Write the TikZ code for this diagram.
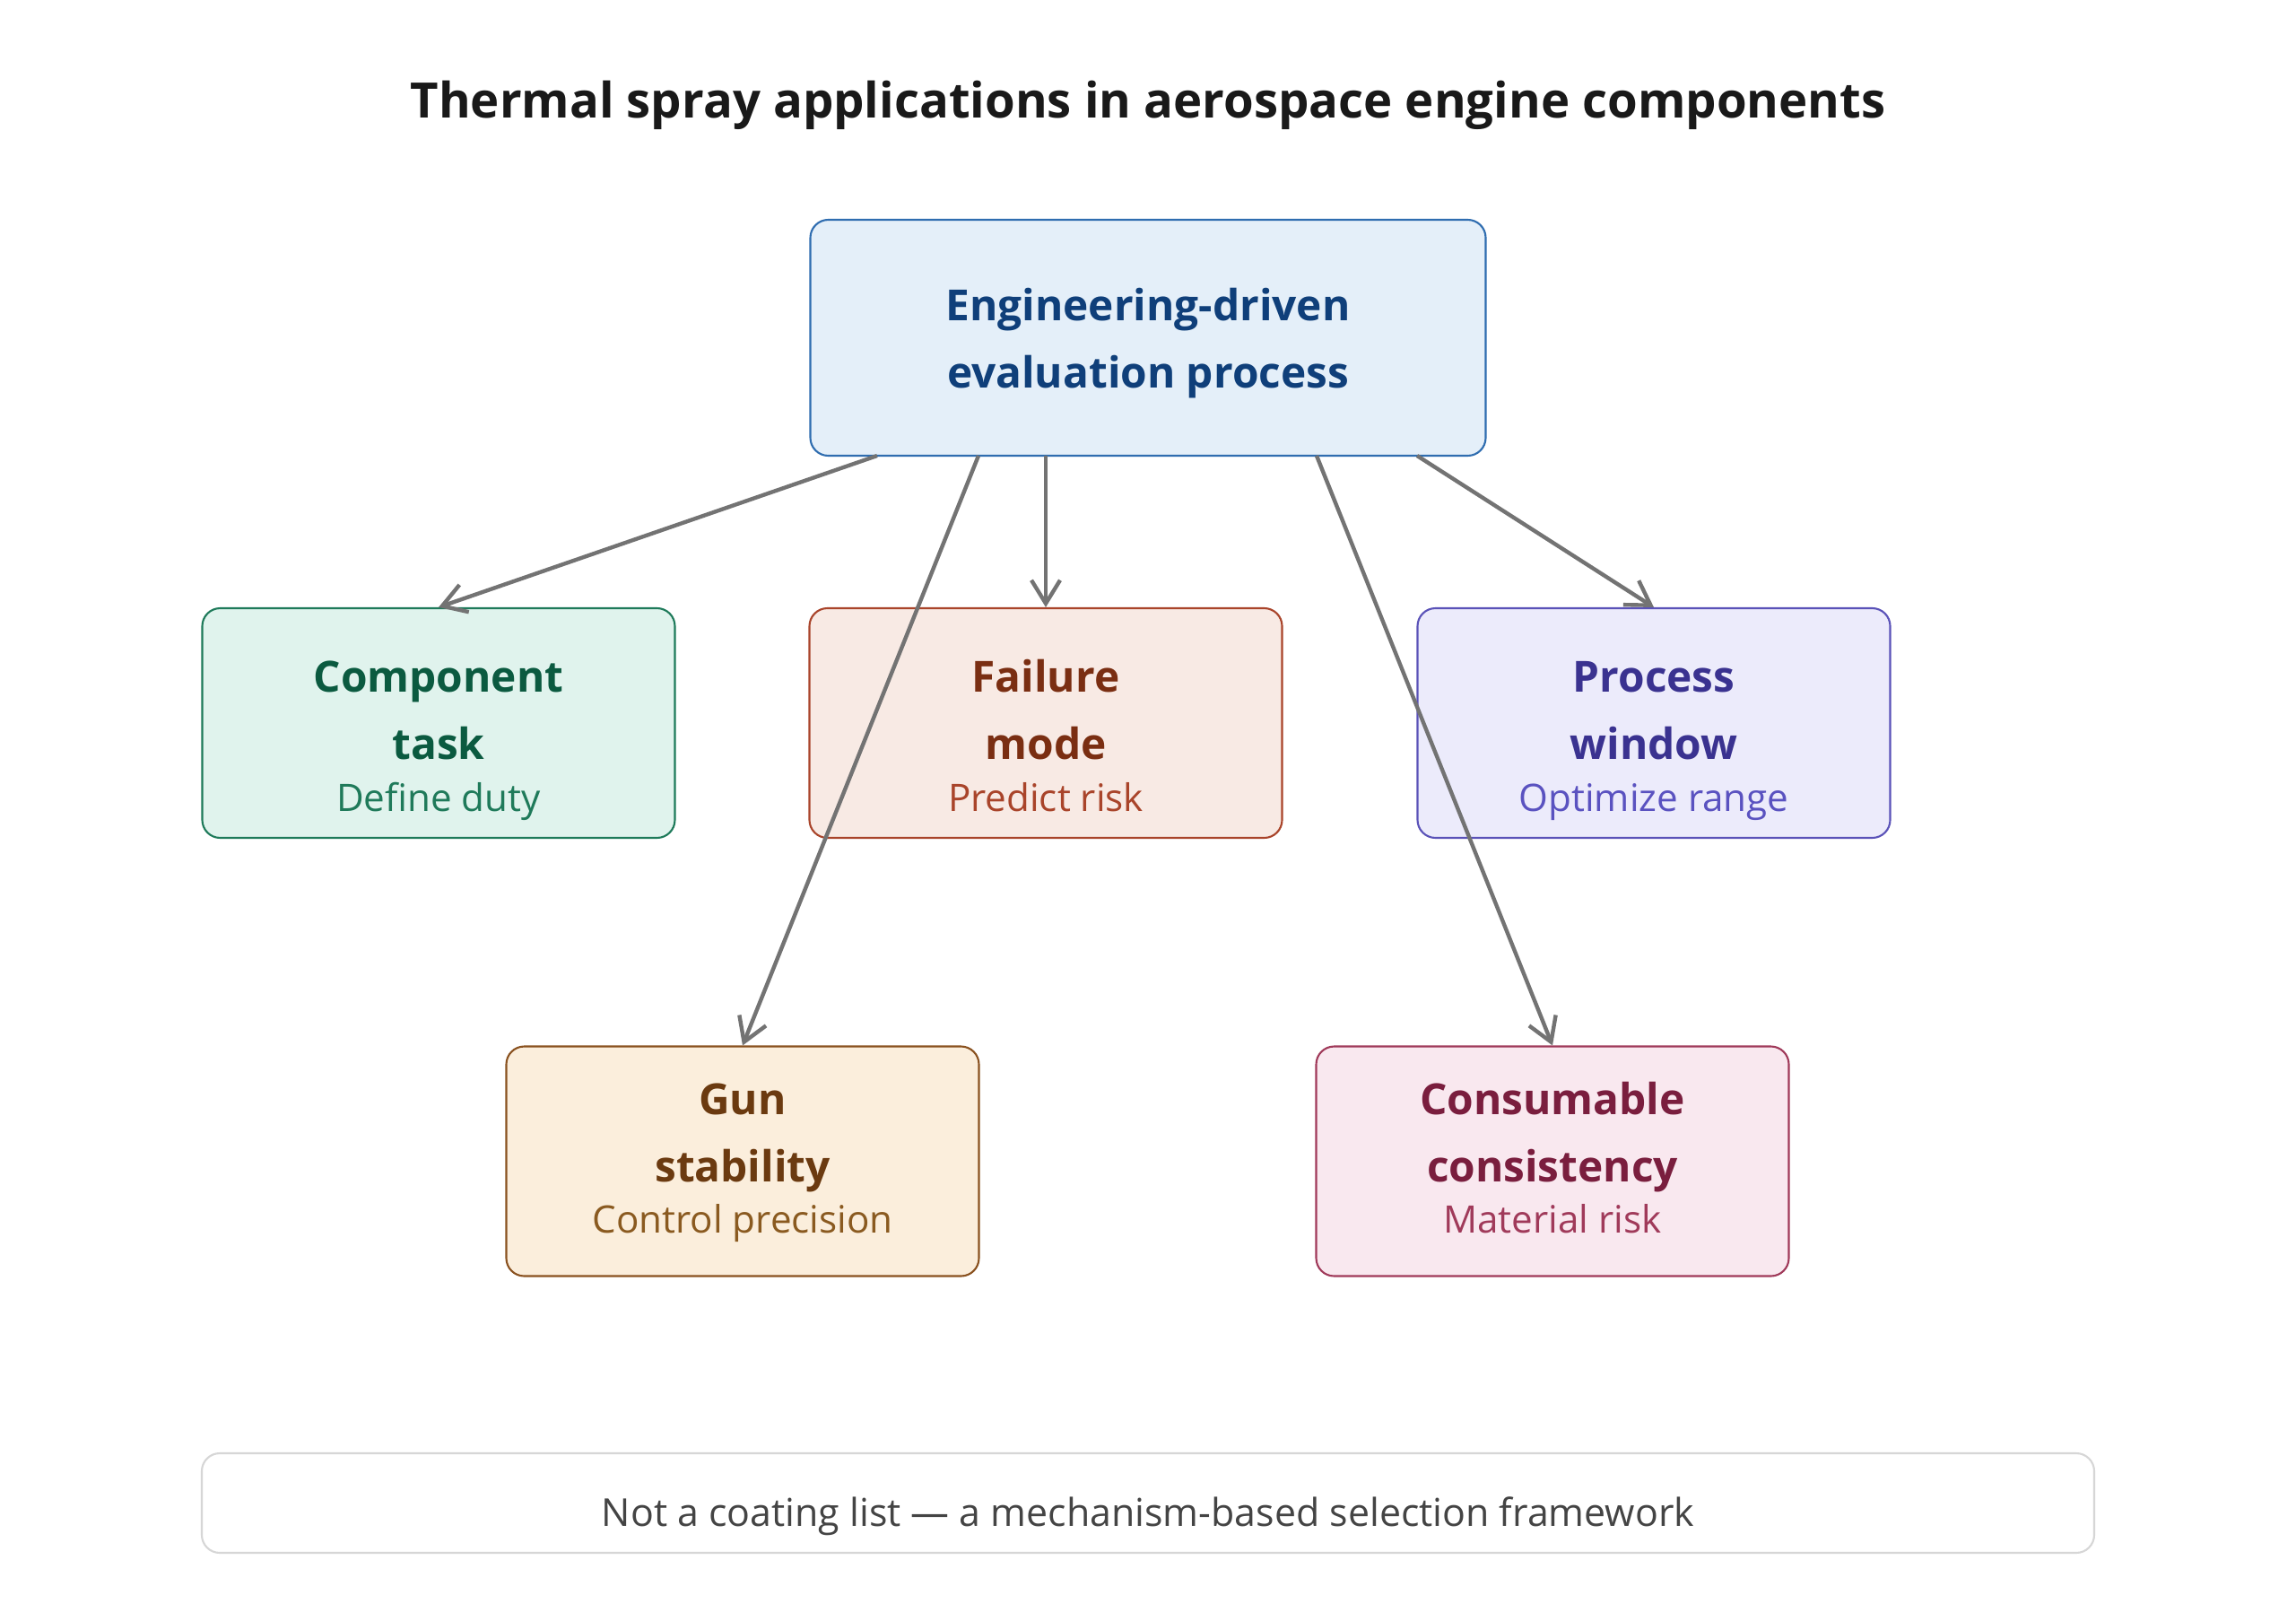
\documentclass[tikz,border=0pt]{standalone}
\usepackage{fontspec}
\setmainfont{Open Sans}
\usetikzlibrary{arrows.meta}
\definecolor{arrowgray}{HTML}{737373}
\definecolor{topfill}{HTML}{E4EFF9}\definecolor{topline}{HTML}{2F6DB0}\definecolor{toptext}{HTML}{0F3F7A}
\definecolor{cfill}{HTML}{E0F3ED}\definecolor{cline}{HTML}{1E7A5A}\definecolor{ctext}{HTML}{0B5A40}\definecolor{csub}{HTML}{1F7A5A}
\definecolor{ffill}{HTML}{F8EAE4}\definecolor{fline}{HTML}{A9442A}\definecolor{ftext}{HTML}{7A2E12}\definecolor{fsub}{HTML}{A9442A}
\definecolor{pfill}{HTML}{ECEBFB}\definecolor{pline}{HTML}{5A52B8}\definecolor{ptext}{HTML}{3A3290}\definecolor{psub}{HTML}{5A52C0}
\definecolor{gfill}{HTML}{FBEEDC}\definecolor{gline}{HTML}{8A5220}\definecolor{gtext}{HTML}{6B3A10}\definecolor{gsub}{HTML}{8A5A20}
\definecolor{kfill}{HTML}{F9E8EF}\definecolor{kline}{HTML}{A03A5A}\definecolor{ktext}{HTML}{7A1E3E}\definecolor{ksub}{HTML}{A03A5A}
\definecolor{noteline}{HTML}{D6D6D6}\definecolor{notetext}{HTML}{444444}
\tikzset{
  box/.style={rectangle, rounded corners=0.2cm, line width=0.6pt, inner sep=0pt},
  mainbox/.style={box, minimum width=7.53cm, minimum height=2.63cm},
  smallbox/.style={box, minimum width=5.27cm, minimum height=2.56cm},
  headtxt/.style={anchor=mid, font=\fontsize{13.6}{16}\selectfont\bfseries, inner sep=0pt},
  subtxt/.style={anchor=mid, font=\fontsize{12}{14}\selectfont, inner sep=0pt},
  conn/.style={draw=arrowgray, line width=1.25pt, -{Straight Barb[length=2.6mm,width=3.2mm,line width=1.25pt]}},
}
\begin{document}
\begin{tikzpicture}
\useasboundingbox[fill=white] (0,0) rectangle (25.6,-18.07);
\node[anchor=mid, font=\fontsize{15.5}{19}\selectfont\bfseries, text=black!90] (title) at (12.8,-1.22) {Thermal spray applications in aerospace engine components};

\node[mainbox, fill=topfill, draw=topline] (top) at (12.80,-3.765) {};
\node[headtxt, text=toptext] (topl1) at (12.80,-3.48) {Engineering-driven};
\node[headtxt, text=toptext] (topl2) at (12.80,-4.23) {evaluation process};

\node[smallbox, fill=cfill, draw=cline] (comp) at (4.89,-8.06) {};
\node[headtxt, text=ctext] (compl1) at (4.89,-7.62) {Component};
\node[headtxt, text=ctext] (compl2) at (4.89,-8.37) {task};
\node[subtxt, text=csub] (comps) at (4.89,-8.95) {Define duty};

\node[smallbox, fill=ffill, draw=fline] (fail) at (11.66,-8.06) {};
\node[headtxt, text=ftext] (faill1) at (11.66,-7.62) {Failure};
\node[headtxt, text=ftext] (faill2) at (11.66,-8.37) {mode};
\node[subtxt, text=fsub] (fails) at (11.66,-8.95) {Predict risk};

\node[smallbox, fill=pfill, draw=pline] (proc) at (18.44,-8.06) {};
\node[headtxt, text=ptext] (procl1) at (18.44,-7.62) {Process};
\node[headtxt, text=ptext] (procl2) at (18.44,-8.37) {window};
\node[subtxt, text=psub] (procs) at (18.44,-8.95) {Optimize range};

\node[smallbox, fill=gfill, draw=gline] (gun) at (8.28,-12.945) {};
\node[headtxt, text=gtext] (gunl1) at (8.28,-12.33) {Gun};
\node[headtxt, text=gtext] (gunl2) at (8.28,-13.08) {stability};
\node[subtxt, text=gsub] (guns) at (8.28,-13.65) {Control precision};

\node[smallbox, fill=kfill, draw=kline] (cons) at (17.31,-12.945) {};
\node[headtxt, text=ktext] (consl1) at (17.31,-12.33) {Consumable};
\node[headtxt, text=ktext] (consl2) at (17.31,-13.08) {consistency};
\node[subtxt, text=ksub] (conss) at (17.31,-13.65) {Material risk};

\node[box, draw=noteline, fill=white, minimum width=21.10cm, minimum height=1.11cm] (note) at (12.80,-16.755) {};
\node[subtxt, font=\fontsize{12.2}{14}\selectfont, text=notetext] (notet) at (12.80,-16.92) {Not a coating list — a mechanism-based selection framework};

\coordinate (s1) at (9.78,-5.08);
\coordinate (s2) at (10.91,-5.08);
\coordinate (s3) at (11.66,-5.08);
\coordinate (s4) at (14.68,-5.08);
\coordinate (s5) at (15.80,-5.08);
\draw[conn] (s1) -- (comp.north);
\draw[conn] (s2) -- (gun.north);
\draw[conn] (s3) -- (fail.north);
\draw[conn] (s4) -- (cons.north);
\draw[conn] (s5) -- (proc.north);
\end{tikzpicture}
\end{document}
